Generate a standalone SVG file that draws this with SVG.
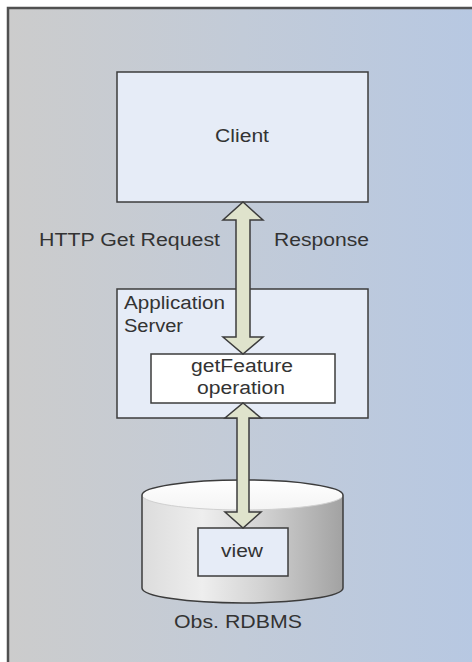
<svg xmlns="http://www.w3.org/2000/svg" width="472" height="662" viewBox="0 0 472 662">
<defs>
<linearGradient id="bg" x1="0" y1="0" x2="1" y2="0">
<stop offset="0" stop-color="#cccccc"/>
<stop offset="0.5" stop-color="#c2cbd8"/>
<stop offset="1" stop-color="#b7c8e2"/>
</linearGradient>
<linearGradient id="cyl" x1="0" y1="0" x2="1" y2="0">
<stop offset="0" stop-color="#dcdcdc"/>
<stop offset="0.3" stop-color="#eeeeee"/>
<stop offset="0.6" stop-color="#d2d2d2"/>
<stop offset="1" stop-color="#a2a2a2"/>
</linearGradient>
<linearGradient id="cyltop" x1="0" y1="0" x2="0" y2="1">
<stop offset="0" stop-color="#ffffff"/>
<stop offset="1" stop-color="#f4f4f4"/>
</linearGradient>
<style>
.box{fill:#e6ecf7;stroke:#3c3c3c;stroke-width:1.5}
.wbox{fill:#ffffff;stroke:#3c3c3c;stroke-width:1.5}
.lbl{font-family:"Liberation Sans",Arial,sans-serif;font-size:18px;fill:#333333}
.arr{fill:#dfe3cc;stroke:#3c3c3c;stroke-width:1.5;stroke-linejoin:miter}
</style>
</defs>
<rect x="0" y="0" width="472" height="662" fill="#ffffff"/>
<rect x="8" y="8" width="470" height="660" fill="url(#bg)" stroke="#505050" stroke-width="2.5"/>

<g id="client">
<rect class="box" x="117" y="72" width="251" height="130"/>
<text class="lbl" x="215" y="142" textLength="54" lengthAdjust="spacingAndGlyphs">Client</text>
</g>

<g id="http-label">
<text class="lbl" x="39" y="246" textLength="181" lengthAdjust="spacingAndGlyphs">HTTP Get Request</text>
</g>
<g id="response-label">
<text class="lbl" x="274" y="246" textLength="95" lengthAdjust="spacingAndGlyphs">Response</text>
</g>

<g id="appserver">
<rect class="box" x="117" y="289" width="251" height="129"/>
<text class="lbl" x="124" y="309" textLength="101" lengthAdjust="spacingAndGlyphs">Application</text>
<text class="lbl" x="124" y="332" textLength="59" lengthAdjust="spacingAndGlyphs">Server</text>
</g>

<g id="getfeature">
<rect class="wbox" x="151" y="354" width="184" height="49"/>
<text class="lbl" x="191" y="372" textLength="102" lengthAdjust="spacingAndGlyphs">getFeature</text>
<text class="lbl" x="197" y="394" textLength="88" lengthAdjust="spacingAndGlyphs">operation</text>
</g>

<g id="rdbms">
<path d="M142,495 L142,588 A100.5,15 0 0 0 343,588 L343,495 Z" fill="url(#cyl)"/>
<ellipse cx="242.5" cy="495" rx="100.5" ry="15" fill="url(#cyltop)"/>
<path d="M142,495 A100.5,15 0 0 0 343,495" fill="none" stroke="#d0d0d0" stroke-width="1"/>
<path d="M142,495 A100.5,15 0 0 1 343,495 L343,588 A100.5,15 0 0 1 142,588 Z" fill="none" stroke="#3c3c3c" stroke-width="1.5"/>
<text class="lbl" x="174" y="628" textLength="128" lengthAdjust="spacingAndGlyphs">Obs. RDBMS</text>
</g>

<g id="view">
<rect class="box" x="198" y="528" width="90" height="48"/>
<text class="lbl" x="221" y="557" textLength="42" lengthAdjust="spacingAndGlyphs">view</text>
</g>

<g id="connectors">
<polygon class="arr" points="243,202 263,220 250,220 250,337 263,337 243,354 223,337 236,337 236,220 223,220"/>
<polygon class="arr" points="243,403 261,418 249,418 249,512 261,512 243,528 225,512 237,512 237,418 225,418"/>
</g>
</svg>
